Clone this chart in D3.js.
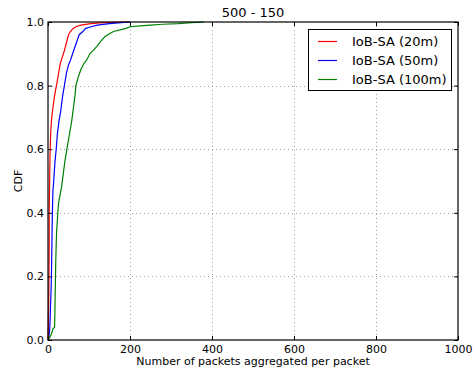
<!DOCTYPE html>
<html>
<head>
<meta charset="utf-8">
<script src="https://cdn.jsdelivr.net/npm/d3@7"></script>
<style>
  html, body { margin: 0; padding: 0; background: #fff; }
  svg { display: block; font-family: "DejaVu Sans", sans-serif; }
</style>
</head>
<body>
<svg id="chart" width="474" height="375"></svg>
<script>
// Empirical CDF of packets aggregated per packet, one curve per range
const title = "500 - 150";
const xLabel = "Number of packets aggregated per packet";
const yLabel = "CDF";
const xTicks = [0, 200, 400, 600, 800, 1000];
const yTicks = [0.0, 0.2, 0.4, 0.6, 0.8, 1.0];
const seriesNames = ["IoB-SA (20m)", "IoB-SA (50m)", "IoB-SA (100m)"];
const seriesColors = ["#ff0000", "#0000ff", "#008000"];

const x20 = [0, 1, 2, 3, 3, 4, 5, 6, 7, 9, 12, 15, 19, 22, 26, 30, 35, 40, 44, 47, 50, 55, 60, 68, 80, 100, 125, 160, 200];
const cdf20 = [0, 0.05, 0.15, 0.3, 0.4, 0.5, 0.58, 0.63, 0.66, 0.7, 0.73, 0.76, 0.79, 0.81, 0.84, 0.87, 0.89, 0.91, 0.93, 0.945, 0.96, 0.97, 0.978, 0.985, 0.99, 0.994, 0.997, 0.999, 1.0];

const x50 = [0, 2, 4, 5, 6, 8, 9, 10, 11, 12, 14, 15, 17, 20, 23, 27, 31, 36, 40, 45, 50, 55, 60, 68, 76, 85, 92, 105, 120, 150, 200];
const cdf50 = [0, 0.01, 0.03, 0.06, 0.1, 0.18, 0.25, 0.35, 0.42, 0.47, 0.5, 0.52, 0.56, 0.6, 0.65, 0.69, 0.72, 0.77, 0.8, 0.84, 0.865, 0.88, 0.9, 0.93, 0.96, 0.97, 0.98, 0.985, 0.99, 0.995, 1.0];

const x100 = [0, 3, 6, 10, 12, 16, 17, 18, 19, 20, 21, 23, 25, 27, 30, 33, 37, 41, 46, 50, 54, 58, 62, 66, 68, 74, 80, 87, 94, 102, 110, 120, 131, 140, 151, 160, 176, 190, 200, 225, 250, 280, 317, 350, 380];
const cdf100 = [0, 0.005, 0.012, 0.025, 0.035, 0.04, 0.1, 0.18, 0.25, 0.3, 0.34, 0.38, 0.42, 0.44, 0.46, 0.48, 0.52, 0.56, 0.6, 0.63, 0.66, 0.69, 0.73, 0.77, 0.8, 0.828, 0.85, 0.868, 0.88, 0.9, 0.91, 0.925, 0.943, 0.955, 0.964, 0.97, 0.975, 0.98, 0.985, 0.988, 0.99, 0.993, 0.995, 0.998, 1.0];

const seriesX = [x20, x50, x100];
const seriesY = [cdf20, cdf50, cdf100];

const svg = d3.select("#chart");
const plot = { left: 48, top: 22, right: 458, bottom: 340 };

const x = d3.scaleLinear().domain([0, 1000]).range([plot.left, plot.right]);
const y = d3.scaleLinear().domain([0, 1]).range([plot.bottom, plot.top]);

svg.append("rect").attr("width", 474).attr("height", 375).attr("fill", "#fff");

// grid
const grid = svg.append("g").attr("stroke", "#888").attr("stroke-width", 0.8)
  .attr("stroke-dasharray", "1,3");
grid.selectAll("line.gx").data(xTicks.slice(1, -1)).join("line")
  .attr("x1", d => Math.round(x(d)) + 0.5).attr("x2", d => Math.round(x(d)) + 0.5)
  .attr("y1", plot.top).attr("y2", plot.bottom);
grid.selectAll("line.gy").data(yTicks.slice(1, -1)).join("line")
  .attr("y1", d => Math.round(y(d)) + 0.5).attr("y2", d => Math.round(y(d)) + 0.5)
  .attr("x1", plot.left).attr("x2", plot.right);

// curves
const line = d3.line().x(d => x(d[0])).y(d => y(d[1]));
seriesX.forEach((xs, i) => {
  const pts = xs.map((v, j) => [v, seriesY[i][j]]);
  svg.append("path").datum(pts).attr("d", line)
    .attr("fill", "none").attr("stroke", seriesColors[i]).attr("stroke-width", 1.2);
});

// axes with inward ticks on all sides
const tickLen = 4;
const fmtY = d3.format(".1f");
const axB = svg.append("g").attr("transform", `translate(0,${plot.bottom})`)
  .call(d3.axisBottom(x).tickValues(xTicks).tickSize(-tickLen).tickPadding(5).tickFormat(d3.format("d")));
const axT = svg.append("g").attr("transform", `translate(0,${plot.top})`)
  .call(d3.axisTop(x).tickValues(xTicks).tickSize(-tickLen).tickFormat(""));
const axL = svg.append("g").attr("transform", `translate(${plot.left},0)`)
  .call(d3.axisLeft(y).tickValues(yTicks).tickSize(-tickLen).tickPadding(4).tickFormat(fmtY));
const axR = svg.append("g").attr("transform", `translate(${plot.right},0)`)
  .call(d3.axisRight(y).tickValues(yTicks).tickSize(-tickLen).tickFormat(""));
[axB, axT, axL, axR].forEach(a => {
  a.select(".domain").remove();
  a.selectAll("line").attr("stroke", "#000").attr("stroke-width", 1);
  a.selectAll("text").attr("font-family", "DejaVu Sans").attr("font-size", 11).attr("fill", "#000");
});

// frame
svg.append("rect")
  .attr("x", plot.left).attr("y", plot.top)
  .attr("width", plot.right - plot.left).attr("height", plot.bottom - plot.top)
  .attr("fill", "none").attr("stroke", "#000").attr("stroke-width", 1.2);

// title & labels
svg.append("text").attr("x", (plot.left + plot.right) / 2).attr("y", 17)
  .attr("text-anchor", "middle").attr("font-size", 13).text(title);
svg.append("text").attr("x", (plot.left + plot.right) / 2).attr("y", 365)
  .attr("text-anchor", "middle").attr("font-size", 11).text(xLabel);
svg.append("text").attr("transform", `translate(22,${(plot.top + plot.bottom) / 2}) rotate(-90)`)
  .attr("text-anchor", "middle").attr("font-size", 11).text(yLabel);

// legend
const lg = svg.append("g");
lg.append("rect").attr("x", 308.5).attr("y", 29.5).attr("width", 143).attr("height", 61)
  .attr("fill", "#fff").attr("stroke", "#000").attr("stroke-width", 1);
seriesNames.forEach((name, i) => {
  const cy = 41.5 + i * 19;
  lg.append("line").attr("x1", 318).attr("x2", 337).attr("y1", cy).attr("y2", cy)
    .attr("stroke", seriesColors[i]).attr("stroke-width", 1.2);
  lg.append("text").attr("x", 352).attr("y", cy).attr("dy", "0.35em")
    .attr("font-size", 13).text(name);
});
</script>
</body>
</html>
